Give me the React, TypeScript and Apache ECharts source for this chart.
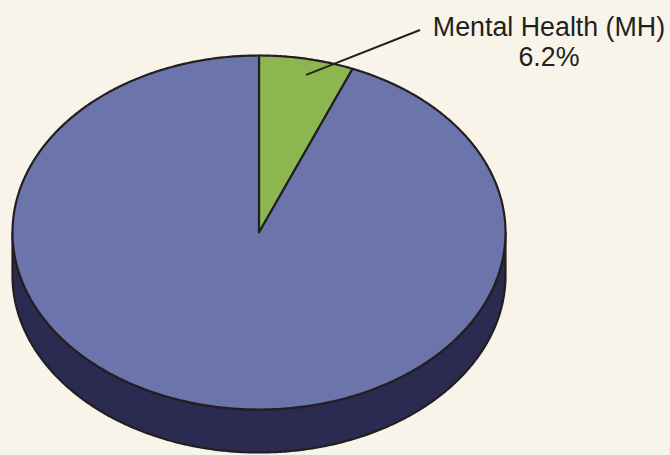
import React, { useEffect, useRef } from "react";
import * as echarts from "echarts";

const categories = ["Mental Health (MH)", "All Other Conditions"];
const values = [6.2, 93.8];
const showLabel = [true, false];
const topColors = ["#8BB650", "#6B75AB"];
const sideColors = ["#56702E", "#2B2A51"];

const CX = 259;
const CY = 232.5;
const RX = 246.5;
const RY = 177;
const DEPTH = 43;
const EDGE = "#231F20";

function pt(angDeg: number, dy = 0, k = 1): number[] {
  const a = (angDeg * Math.PI) / 180;
  return [CX + k * RX * Math.sin(a), CY + dy - k * RY * Math.cos(a)];
}

function arc(a0: number, a1: number, dy = 0): number[][] {
  const pts: number[][] = [];
  const n = Math.max(2, Math.ceil(Math.abs(a1 - a0) / 0.5));
  for (let i = 0; i <= n; i++) pts.push(pt(a0 + ((a1 - a0) * i) / n, dy));
  return pts;
}

export default function App() {
  const ref = useRef<HTMLDivElement>(null);
  useEffect(() => {
    if (!ref.current) return;
    const chart = echarts.init(ref.current, undefined, { renderer: "svg" });
    const total = values.reduce((s, v) => s + v, 0);
    const starts: number[] = [];
    let acc = 0;
    values.forEach((v) => {
      starts.push((acc / total) * 360);
      acc += v;
    });

    chart.setOption({
      animation: false,
      backgroundColor: "#F8F4EA",
      series: [
        {
          type: "custom",
          coordinateSystem: "none",
          data: categories.map((c, i) => ({ name: c, value: [values[i], i] })),
          renderItem: (params: any, api: any) => {
            const i = params.dataIndex;
            const v = api.value(0) as number;
            const a0 = starts[i];
            const a1 = a0 + (v / total) * 360;
            const children: any[] = [];
            const s0 = Math.max(a0, 90);
            const s1 = Math.min(a1, 270);
            if (s1 > s0) {
              const top = arc(s0, s1, 0);
              const bot = arc(s1, s0, DEPTH);
              children.push({
                type: "polygon",
                z2: 1,
                shape: { points: top.concat(bot) },
                style: { fill: sideColors[i], stroke: EDGE, lineWidth: 2.2, lineJoin: "round" },
              });
            }
            const pts = [[CX, CY]].concat(arc(a0, a1, 0));
            children.push({
              type: "polygon",
              z2: 5,
              shape: { points: pts },
              style: { fill: topColors[i], stroke: EDGE, lineWidth: 2.2, lineJoin: "round" },
            });
            if (showLabel[i]) {
              const mid = (a0 + a1) / 2;
              const p = pt(mid, 0, 0.925);
              const pct = ((v / total) * 100).toFixed(1);
              children.push({
                type: "line",
                z2: 10,
                shape: { x1: p[0] + 3, y1: p[1] + 3, x2: 420, y2: 30 },
                style: { stroke: EDGE, lineWidth: 2 },
              });
              children.push({
                type: "text",
                z2: 10,
                x: 549,
                y: 12,
                style: {
                  text: `${categories[i]}\n${pct}%`,
                  fill: "#231F20",
                  font: '26.8px "Liberation Sans", Arial, sans-serif',
                  lineHeight: 30,
                  align: "center",
                  verticalAlign: "top",
                },
              });
            }
            return { type: "group", children };
          },
        },
      ],
    });
    return () => chart.dispose();
  }, []);

  return (
    <div
      ref={ref}
      style={{ position: "fixed", left: 0, top: 0, width: 670, height: 455 }}
    />
  );
}
